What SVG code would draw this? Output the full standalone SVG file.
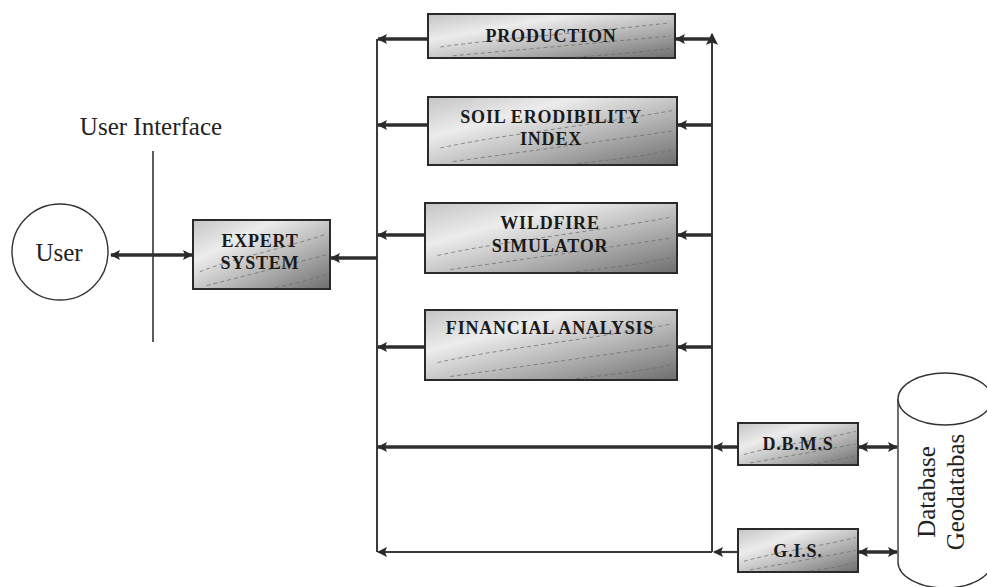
<svg xmlns="http://www.w3.org/2000/svg" width="987" height="587" viewBox="0 0 987 587">
  <style>
    .box { stroke: #2a2a2a; stroke-width: 2; fill: url(#shade); }
    .tex { fill: none; stroke: #6a6a6a; stroke-width: 1; stroke-dasharray: 4 3; opacity: 0.7; }
    .lbl { font-family: "Liberation Serif", "Times New Roman", serif; font-weight: bold; font-size: 18px; fill: #1a1a1a; text-anchor: middle; letter-spacing: 0.8px; }
    .plain { font-family: "Liberation Serif", "Times New Roman", serif; fill: #222; text-anchor: middle; }
    .bus { stroke: #3a3a3a; stroke-width: 2; fill: none; }
    .arr { stroke: #2e2e2e; stroke-width: 3.5; fill: none; }
    .thin { stroke: #3a3a3a; stroke-width: 2.2; fill: none; }
  </style>
  <defs>
    <linearGradient id="shade" x1="0" y1="0" x2="1" y2="1">
      <stop offset="0" stop-color="#c4c4c4"/>
      <stop offset="0.3" stop-color="#ececec"/>
      <stop offset="0.6" stop-color="#b8b8b8"/>
      <stop offset="1" stop-color="#6e6e6e"/>
    </linearGradient>
    <symbol id="texture" viewBox="0 0 100 100" preserveAspectRatio="none">
      <path class="tex" vector-effect="non-scaling-stroke" d="M5 75 C30 55 60 45 98 20"/>
      <path class="tex" vector-effect="non-scaling-stroke" d="M10 95 C40 80 70 65 98 50"/>
      <path class="tex" vector-effect="non-scaling-stroke" d="M60 98 C75 92 88 86 98 78"/>
    </symbol>
    <marker id="ah" viewBox="0 0 10 10" refX="9" refY="5" markerWidth="10" markerHeight="10" markerUnits="userSpaceOnUse" orient="auto-start-reverse">
      <path d="M0 0 L10 5 L0 10 L2 5 Z" fill="#2a2a2a"/>
    </marker>
    <marker id="ahs" viewBox="0 0 10 10" refX="9" refY="5" markerWidth="12" markerHeight="12" markerUnits="userSpaceOnUse" orient="auto-start-reverse">
      <path d="M0 0 L10 5 L0 10 L2 5 Z" fill="#2a2a2a"/>
    </marker>
  </defs>

  <rect width="987" height="587" fill="#ffffff"/>

  <!-- connectors -->
  <g id="connectors">
    <!-- buses -->
    <path class="bus" d="M377 39 V552"/>
    <path class="bus" d="M712 552 V34" marker-end="url(#ahs)"/>
    <!-- module outputs to left bus -->
    <path class="arr" d="M428 39 H378" marker-end="url(#ah)"/>
    <path class="arr" d="M428 125 H378" marker-end="url(#ah)"/>
    <path class="arr" d="M425 235 H378" marker-end="url(#ah)"/>
    <path class="arr" d="M425 347 H378" marker-end="url(#ah)"/>
    <!-- right bus into modules -->
    <path class="arr" d="M712 39 H676" marker-end="url(#ah)"/>
    <path class="arr" d="M712 125 H678" marker-end="url(#ah)"/>
    <path class="arr" d="M712 235 H678" marker-end="url(#ah)"/>
    <path class="arr" d="M712 347 H678" marker-end="url(#ah)"/>
    <!-- left bus into expert system -->
    <path class="arr" d="M377 258 H331" marker-end="url(#ah)"/>
    <!-- user <-> expert system -->
    <path class="arr" d="M111 255 H192" marker-start="url(#ah)" marker-end="url(#ah)"/>
    <!-- D.B.M.S line -->
    <path class="arr" d="M738 447 H714" marker-end="url(#ah)"/>
    <path class="arr" d="M712 447 H378" marker-end="url(#ah)"/>
    <!-- G.I.S. line -->
    <path class="thin" d="M738 552 H714" marker-end="url(#ah)"/>
    <path class="thin" d="M712 552 H378" marker-end="url(#ah)"/>
    <!-- database links -->
    <path class="arr" d="M859 447 H897" marker-start="url(#ah)" marker-end="url(#ah)"/>
    <path class="arr" d="M859 552 H897" marker-start="url(#ah)" marker-end="url(#ah)"/>
    <!-- user interface boundary -->
    <path d="M153 151 V342" stroke="#333" stroke-width="1.6"/>
  </g>

  <!-- user -->
  <g id="user">
    <circle cx="60" cy="252" r="48" fill="#ffffff" stroke="#333" stroke-width="1.4"/>
    <text class="plain" x="59" y="261" font-size="25">User</text>
  </g>

  <g id="user-interface">
    <text class="plain" x="151" y="135" font-size="25">User Interface</text>
  </g>

  <g id="expert-system">
    <rect class="box" x="193" y="220" width="137" height="69"/>
    <use href="#texture" x="193" y="220" width="137" height="69"/>
    <text class="lbl" x="260" y="247">EXPERT</text>
    <text class="lbl" x="260" y="269">SYSTEM</text>
  </g>

  <g id="production">
    <rect class="box" x="428" y="14" width="247" height="44"/>
    <use href="#texture" x="428" y="14" width="247" height="44"/>
    <text class="lbl" x="551" y="42">PRODUCTION</text>
  </g>

  <g id="soil-erodibility">
    <rect class="box" x="428" y="97" width="249" height="68"/>
    <use href="#texture" x="428" y="97" width="249" height="68"/>
    <text class="lbl" x="551" y="123">SOIL ERODIBILITY</text>
    <text class="lbl" x="551" y="145">INDEX</text>
  </g>

  <g id="wildfire-simulator">
    <rect class="box" x="425" y="203" width="252" height="70"/>
    <use href="#texture" x="425" y="203" width="252" height="70"/>
    <text class="lbl" x="550" y="229">WILDFIRE</text>
    <text class="lbl" x="550" y="252">SIMULATOR</text>
  </g>

  <g id="financial-analysis">
    <rect class="box" x="425" y="310" width="252" height="70"/>
    <use href="#texture" x="425" y="310" width="252" height="70"/>
    <text class="lbl" x="550" y="334">FINANCIAL ANALYSIS</text>
  </g>

  <g id="dbms">
    <rect class="box" x="738" y="423" width="120" height="42"/>
    <use href="#texture" x="738" y="423" width="120" height="42"/>
    <text class="lbl" x="798" y="450">D.B.M.S</text>
  </g>

  <g id="gis">
    <rect class="box" x="738" y="529" width="120" height="43"/>
    <use href="#texture" x="738" y="529" width="120" height="43"/>
    <text class="lbl" x="798" y="557">G.I.S.</text>
  </g>

  <g id="database">
    <path d="M898 399 V562 A47 26 0 0 0 992 562 V399" fill="#ffffff" stroke="#333" stroke-width="1.4"/>
    <ellipse cx="945" cy="399" rx="47" ry="26" fill="#ffffff" stroke="#333" stroke-width="1.4"/>
    <text class="plain" font-size="25" transform="translate(935 492) rotate(-90)">Database</text>
    <text class="plain" font-size="25" transform="translate(964 492) rotate(-90)">Geodatabas</text>
  </g>
</svg>
